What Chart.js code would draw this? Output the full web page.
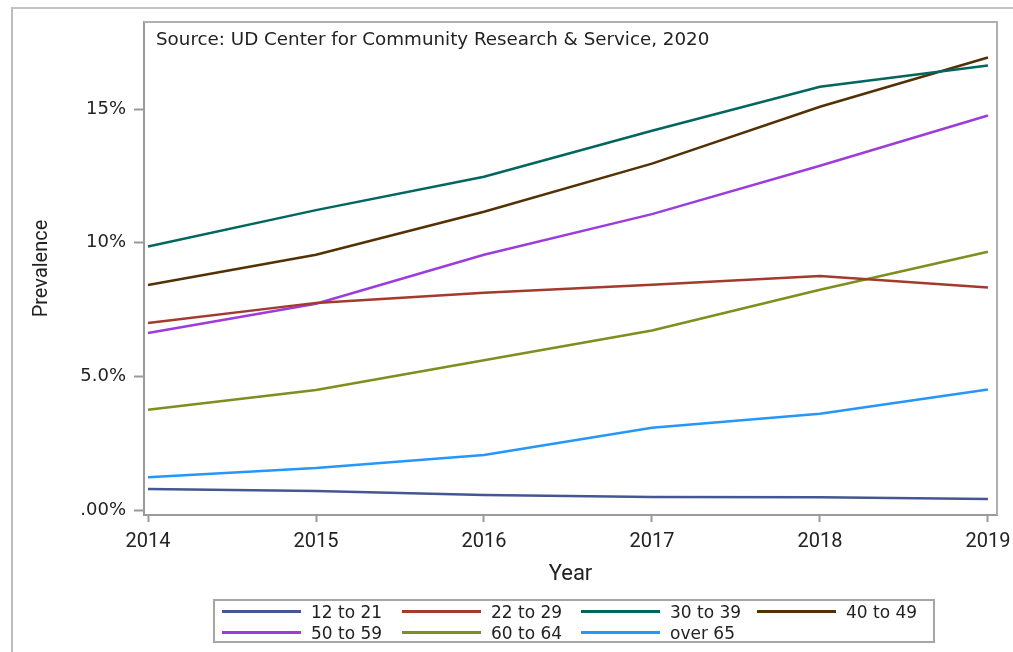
<!DOCTYPE html>
<html>
<head>
<meta charset="utf-8">
<script src="https://cdn.jsdelivr.net/npm/chart.js@4.4.1/dist/chart.umd.min.js"></script>
<style>
    html, body {
        margin: 0;
        padding: 0;
        background: #ffffff;
    }
    .page {
        position: relative;
        width: 1013px;
        height: 652px;
        overflow: hidden;
    }
    .frame {
        position: absolute;
        left: 11px;
        top: 7px;
        width: 1100px;
        height: 700px;
        border-left: 2px solid #bdbdbd;
        border-top: 2px solid #c4c4c4;
    }
    #chart {
        position: absolute;
        left: 0;
        top: 0;
    }
    .legend {
        position: absolute;
        left: 213px;
        top: 599px;
        width: 711px;
        height: 40px;
        border: 2px solid #a6a6a6;
        font-family: "DejaVu Sans", sans-serif;
        font-size: 17px;
        color: #222;
        display: grid;
        grid-template-columns: 180px 179px 176px auto;
        grid-template-rows: 21px 21px;
        padding-left: 7px;
        box-sizing: content-box;
    }
    .legend .item {
        display: flex;
        align-items: center;
        white-space: nowrap;
    }
    .legend .sample {
        width: 79px;
        height: 3px;
        margin-right: 10px;
    }
</style>
</head>
<body>
<div class="page">
    <div class="frame"></div>
    <canvas id="chart" width="1013" height="652"></canvas>
    <div class="legend" id="legend"></div>
</div>
<script>
// data (percent)
const years = [2014, 2015, 2016, 2017, 2018, 2019];
const age12to21 = [0.79, 0.71, 0.56, 0.49, 0.48, 0.41];
const age22to29 = [7.00, 7.75, 8.13, 8.43, 8.76, 8.33];
const age30to39 = [9.86, 11.22, 12.47, 14.19, 15.84, 16.63];
const age40to49 = [8.42, 9.55, 11.16, 12.96, 15.09, 16.93];
const age50to59 = [6.62, 7.72, 9.55, 11.07, 12.88, 14.76];
const age60to64 = [3.75, 4.49, 5.60, 6.72, 8.24, 9.66];
const over65 = [1.23, 1.57, 2.06, 3.08, 3.60, 4.51];

const seriesNames = ['12 to 21', '22 to 29', '30 to 39', '40 to 49', '50 to 59', '60 to 64', 'over 65'];
const seriesValues = [age12to21, age22to29, age30to39, age40to49, age50to59, age60to64, over65];
const seriesColors = ['#445694', '#A23A2E', '#01665E', '#543005', '#9D3CDB', '#7F8E1F', '#2597FA'];

const yTickValues = [0, 5, 10, 15];
const yTickLabels = ['.00%', '5.0%', '10%', '15%'];
const sourceNote = 'Source: UD Center for Community Research & Service, 2020';

// frame around the plot area + source note
const plotFrame = {
    id: 'plotFrame',
    afterDraw(chart) {
        const a = chart.chartArea;
        const ctx = chart.ctx;
        ctx.save();
        ctx.strokeStyle = '#b0b0b0';
        ctx.lineWidth = 2;
        ctx.beginPath();
        ctx.moveTo(a.left, a.top);
        ctx.lineTo(a.right, a.top);
        ctx.lineTo(a.right, a.bottom);
        ctx.stroke();
        ctx.fillStyle = '#222';
        ctx.font = '18.3px "DejaVu Sans"';
        ctx.textBaseline = 'middle';
        ctx.fillText(sourceNote, a.left + 12, a.top + 18);
        ctx.restore();
    }
};

const ctx = document.getElementById('chart').getContext('2d');
new Chart(ctx, {
    type: 'line',
    data: {
        datasets: seriesNames.map((name, i) => ({
            label: name,
            data: years.map((y, j) => ({ x: y, y: seriesValues[i][j] })),
            borderColor: seriesColors[i],
            backgroundColor: seriesColors[i],
            borderWidth: 2.5,
            pointRadius: 0,
            tension: 0,
            fill: false
        }))
    },
    options: {
        responsive: false,
        animation: false,
        layout: {
            padding: { left: 26, right: 16, top: 22, bottom: 64 }
        },
        plugins: {
            legend: { display: false },
            tooltip: { enabled: false }
        },
        scales: {
            x: {
                type: 'linear',
                min: 2013.976,
                max: 2019.054,
                afterBuildTicks: (scale) => {
                    scale.ticks = years.map(v => ({ value: v }));
                },
                afterFit: (scale) => {
                    scale.height = 73;
                    scale.paddingLeft = 0;
                    scale.paddingRight = 0;
                },
                border: { color: '#9a9a9a', width: 2 },
                grid: {
                    drawOnChartArea: false,
                    tickLength: 7,
                    tickWidth: 2,
                    tickColor: '#9a9a9a'
                },
                ticks: {
                    padding: 8,
                    color: '#222',
                    font: { family: 'Roboto', size: 20 },
                    maxRotation: 0,
                    callback: (v) => String(v)
                },
                title: {
                    display: true,
                    text: 'Year',
                    color: '#222',
                    font: { family: 'Roboto', size: 22 },
                    padding: { top: 4, bottom: 0 }
                }
            },
            y: {
                min: -0.187,
                max: 18.26,
                afterBuildTicks: (scale) => {
                    scale.ticks = yTickValues.map(v => ({ value: v }));
                },
                afterFit: (scale) => {
                    scale.width = 118;
                    scale.paddingTop = 0;
                    scale.paddingBottom = 0;
                },
                border: { color: '#9a9a9a', width: 2 },
                grid: {
                    drawOnChartArea: false,
                    tickLength: 10,
                    tickWidth: 2,
                    tickColor: '#9a9a9a'
                },
                ticks: {
                    padding: 8,
                    color: '#222',
                    font: { family: 'DejaVu Sans', size: 18 },
                    callback: (v) => yTickLabels[yTickValues.indexOf(v)]
                },
                title: {
                    display: true,
                    text: 'Prevalence',
                    color: '#222',
                    font: { family: 'Roboto', size: 20 },
                    padding: { top: 4, bottom: 4 }
                }
            }
        }
    },
    plugins: [plotFrame]
});

// legend box, two rows of four columns
const legend = document.getElementById('legend');
seriesNames.forEach((name, i) => {
    const item = document.createElement('div');
    item.className = 'item';
    item.innerHTML = `<span class="sample" style="background:${seriesColors[i]}"></span><span>${name}</span>`;
    legend.appendChild(item);
});
</script>
</body>
</html>
